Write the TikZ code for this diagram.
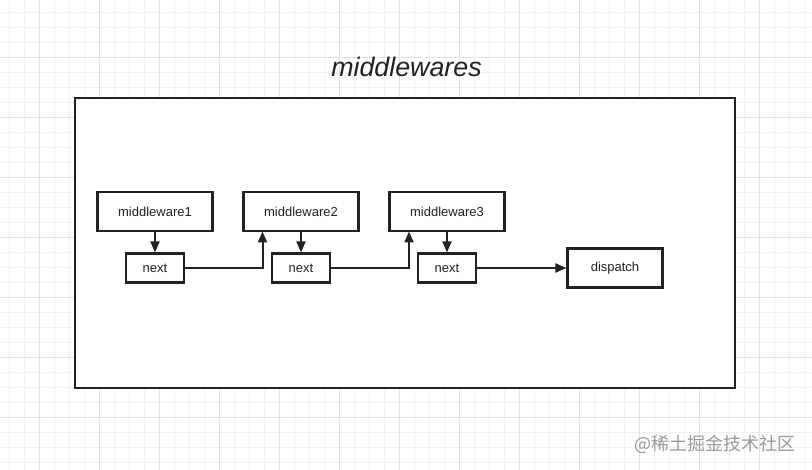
\documentclass[tikz,border=0pt]{standalone}
\usepackage{fontspec}
\setmainfont{Liberation Sans}
\newfontfamily\cjk{Noto Sans CJK SC}
\usetikzlibrary{arrows.meta}
\definecolor{gridminor}{HTML}{F1F1F1}
\definecolor{gridmajor}{HTML}{E2E2E2}
\definecolor{ink}{HTML}{222222}
\begin{document}
\begin{tikzpicture}[x=1pt,y=-1pt,
  box/.style={draw=ink,line width=2.2pt,minimum width=#1,inner sep=0pt,font=\fontsize{13}{15}\selectfont,text=ink},
  box/.default=115pt,
  conn/.style={draw=ink,line width=2pt,-{Triangle[width=9pt,length=11pt]}}]
\useasboundingbox (0,0) rectangle (812,470);
\fill[white] (0,0) rectangle (812,470);
% grid
\foreach \i in {0,...,54} {\draw[gridminor,line width=0.8pt] ({9.3+15*\i},0) -- ({9.3+15*\i},470);}
\foreach \i in {0,...,31} {\draw[gridminor,line width=0.8pt] (0,{12.7+15*\i}) -- (812,{12.7+15*\i});}
\foreach \i in {0,...,13} {\draw[gridmajor,line width=0.8pt] ({39.3+60*\i},0) -- ({39.3+60*\i},470);}
\foreach \i in {0,...,7} {\draw[gridmajor,line width=0.8pt] (0,{57.7+60*\i}) -- (812,{57.7+60*\i});}
% title
\node[font=\fontsize{26.8}{32}\selectfont\itshape,text=ink] (title) at (406.5,67) {middlewares};
% outer frame
\node[draw=ink,line width=2.2pt,fill=white,minimum width=660pt,minimum height=290pt,inner sep=0pt] (frame) at (405,243) {};
% boxes
\node[box,minimum height=39pt] (m1) at (155,211.5) {middleware1};
\node[box,minimum height=39pt] (m2) at (301,211.5) {middleware2};
\node[box,minimum height=39pt] (m3) at (447,211.5) {middleware3};
\node[box=58pt,minimum height=29pt] (n1) at (155,268) {next};
\node[box=58pt,minimum height=29pt] (n2) at (301,268) {next};
\node[box=58pt,minimum height=29pt] (n3) at (447,268) {next};
\node[box=95pt,minimum height=39pt] (d) at (615,268) {dispatch};
% connectors
\draw[conn] (m1.south) -- (n1.north);
\draw[conn] (m2.south) -- (n2.north);
\draw[conn] (m3.south) -- (n3.north);
\draw[conn] (n1.east) -- (262.5,268) -- (262.5,231.5);
\draw[conn] (n2.east) -- (409,268) -- (409,231.5);
\draw[conn] (n3.east) -- (d.west);
% watermark
\node[anchor=east,font=\cjk\fontsize{18}{20}\selectfont,text=black!40,inner sep=0pt] (wm) at (796,444) {@稀土掘金技术社区};
\end{tikzpicture}
\end{document}
